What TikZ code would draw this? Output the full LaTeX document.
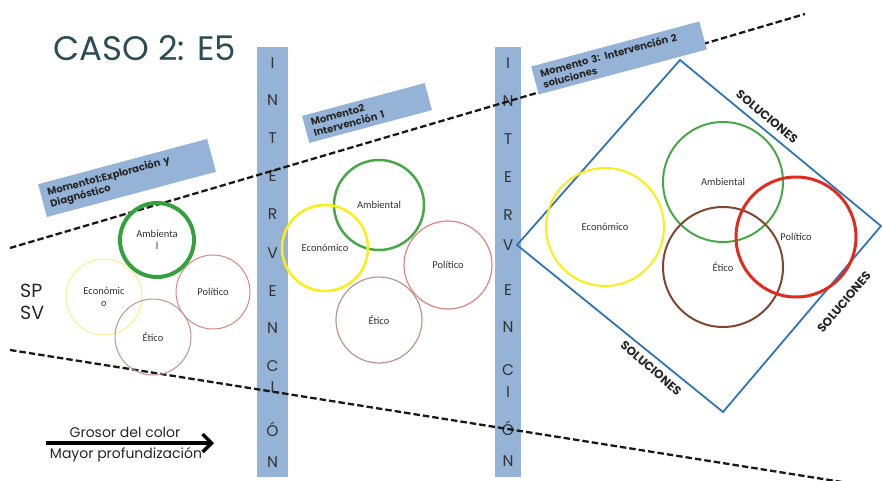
\documentclass[tikz,border=0pt]{standalone}
\usepackage{fontspec}
\setmainfont{Poppins}
\newfontfamily\calib{Carlito}
\usetikzlibrary{arrows.meta}

\definecolor{barblue}{RGB}{149,179,215}
\definecolor{titleslate}{RGB}{46,76,86}
\definecolor{lettergray}{RGB}{50,50,50}
\definecolor{frameblue}{RGB}{46,117,182}
\definecolor{ambgreen}{RGB}{72,168,72}
\definecolor{ambgreenD}{RGB}{52,160,62}
\definecolor{ecoyellow}{RGB}{250,238,20}
\definecolor{ecolight}{RGB}{245,238,140}
\definecolor{polred}{RGB}{226,42,30}
\definecolor{pollight}{RGB}{218,132,128}
\definecolor{etibrown}{RGB}{128,70,50}
\definecolor{etilight}{RGB}{188,150,140}

\tikzset{
  bar/.style={fill=barblue, draw=none, inner sep=0pt, minimum height=430pt},
  barletter/.style={font=\fontsize{15.5}{15.5}\selectfont, text=lettergray, anchor=base, inner sep=0pt},
  guide/.style={dash pattern=on 6.5pt off 3pt, line width=2.3pt, black!90},
  momento/.style={fill=barblue, rotate=15, align=left, text=black!85,
    font=\bfseries\fontsize{10}{11.5}\selectfont, inner xsep=7pt, inner ysep=1pt},
  venn/.style={circle, draw, inner sep=0pt, align=center, text=black!80,
    font=\calib\fontsize{10.5}{11.5}\selectfont},
  sol/.style={font=\bfseries\fontsize{12}{12}\selectfont, text=black!85, inner sep=0pt},
  caption/.style={font=\fontsize{14}{14}\selectfont, text=black!85, anchor=base, inner sep=0pt}
}

\begin{document}
\begin{tikzpicture}[x=1pt, y=-1pt]
\useasboundingbox (0,0) rectangle (882,481);
\clip (0,0) rectangle (882,481);

% title
\node[font=\fontsize{34}{38}\selectfont, text=titleslate, anchor=base west, inner sep=0pt]
  (title) at (53,61) {CASO 2: E5};

% the two intervention bars
\node[bar, minimum width=31pt] (bar1) at (272.5,262) {};
\node[bar, minimum width=26pt] (bar2) at (508,262) {};
\foreach \ch/\yy [count=\i] in {I/63,N/100,T/138,E/176,R/214,V/253,E/291,N/328,C/366,I/387,Ó/431,N/462}
  \node[barletter] (ia\i) at (272.5,\yy+5.5) {\ch};
\foreach \ch/\yy [count=\i] in {I/63,N/101,T/139,E/177,R/215,V/245,E/290,N/327,C/370,I/392,Ó/430,N/461}
  \node[barletter] (ib\i) at (508,\yy+5.5) {\ch};

% dashed guide lines
\coordinate (uL) at (10,248);
\coordinate (uR) at (805,14);
\coordinate (lL) at (10,350);
\coordinate (lR) at (842,482);
\draw[guide] (uL) -- (uR);
\draw[guide] (lL) -- (lR);

% stage labels
\node[momento, text width=161pt, minimum height=34pt] (m1) at (127,178)
  {Momento1:Exploración y\\Diagnóstico};
\node[momento, text width=113pt, minimum height=28pt] (m2) at (367,113)
  {Momento2\\Intervención 1};
\node[momento, text width=160pt, minimum height=29pt] (m3) at (619,58)
  {Momento 3: Intervención 2\\soluciones};

% SP / SV
\node[font=\fontsize{19}{19}\selectfont, text=black!85, anchor=base west, inner sep=0pt] (sp) at (20,297) {SP};
\node[font=\fontsize{19}{19}\selectfont, text=black!85, anchor=base west, inner sep=0pt] (sv) at (20,319) {SV};

% stage 1 circles
\node[venn, draw=ambgreenD, line width=4pt, minimum size=74pt] (a1) at (157,240) {Ambienta\\l};
\node[venn, draw=ecolight, line width=1pt, minimum size=76pt] (e1) at (104,297) {Económic\\o};
\node[venn, draw=pollight, line width=1pt, minimum size=74pt] (p1) at (213,292) {Político};
\node[venn, draw=etilight, line width=1pt, minimum size=76pt] (t1) at (153,337) {Ético};

% stage 2 circles
\node[venn, draw=ambgreen, line width=2.5pt, minimum size=90pt] (a2) at (379,205) {Ambiental};
\node[venn, draw=ecoyellow, line width=2.5pt, minimum size=86pt] (e2) at (325,248) {Económico};
\node[venn, draw=pollight, line width=1.2pt, minimum size=88pt] (p2) at (448,265) {Político};
\node[venn, draw=etilight, line width=1.2pt, minimum size=86pt] (t2) at (379,320) {Ético};

% stage 3 frame
\coordinate (dL) at (517,245);
\coordinate (dT) at (680,60);
\coordinate (dR) at (881,226);
\coordinate (dB) at (723,412);
\draw[frameblue, line width=1.8pt, line join=miter] (dL) -- (dT) -- (dR) -- (dB) -- cycle;
\node[sol, rotate=-40] (s1) at (767,117) {SOLUCIONES};
\node[sol, rotate=-41] (s2) at (651,368) {SOLUCIONES};
\node[sol, rotate=50] (s3) at (844,302) {SOLUCIONES};

% stage 3 circles
\node[venn, draw=ecoyellow, line width=2pt, minimum size=118pt] (e3) at (605,227) {Económico};
\node[venn, draw=ambgreen, line width=2pt, minimum size=120pt] (a3) at (723,182) {Ambiental};
\node[venn, draw=etibrown, line width=2pt, minimum size=120pt] (t3) at (723,267) {Ético};
\node[venn, draw=polred, line width=3pt, minimum size=120pt] (p3) at (796,237) {Político};

% legend arrow
\coordinate (arrS) at (46,443);
\coordinate (arrE) at (214,443);
\draw[line width=3.5pt, -{Straight Barb[length=9pt,width=18pt]}] (arrS) -- (arrE);
\node[caption] (cap1) at (125,437.5) {Grosor del color};
\node[caption] (cap2) at (126,458) {Mayor profundización};
\end{tikzpicture}
\end{document}
